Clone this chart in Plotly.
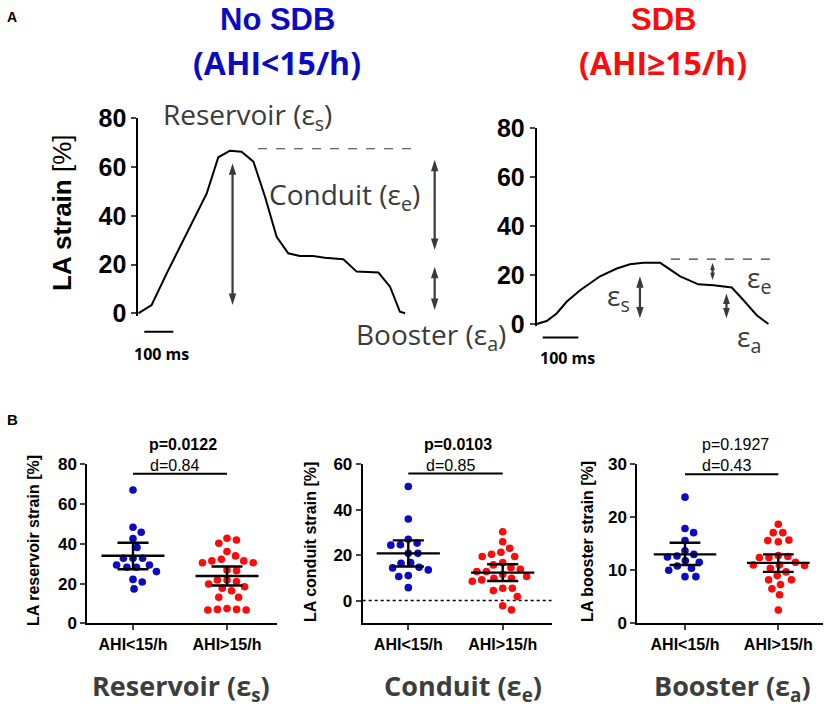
import numpy as np
import plotly.graph_objects as go

W, H = 829, 708

# ---------------- Panel A: representative LA strain curves ----------------
t_nosdb = [0, 46, 98, 167, 236, 276, 316, 356, 397, 437, 477, 517, 557, 603, 643, 707, 753, 828, 868, 902, 920]
s_nosdb = [0, 3.4, 16.4, 32.8, 49.2, 64.0, 66.7, 66.3, 62.2, 47.8, 31.4, 24.6, 23.5, 23.5, 22.8, 22.2, 17.1, 16.7, 10.9, 0.7, 0]
t_sdb = [0, 28, 56, 84, 122, 178, 225, 262, 300, 347, 403, 454, 497, 548, 581, 618, 651]
s_sdb = [0, 1.2, 4.3, 9.1, 13.8, 19.5, 22.7, 24.4, 25.0, 25.0, 19.5, 16.2, 15.8, 14.9, 9.7, 3.6, 0]

# reference (dashed) levels: [value, t_start, t_end]
ref_nosdb = [67.5, 413, 969]
ref_sdb = [26.5, 377, 668]

# double arrows: (time, top, bottom)
arrows_nosdb = [(325, 61.5, 3.4), (1022, 63.0, 26.0), (1022, 19.1, 1.4)]
arrows_sdb = [(290, 19.5, 2.3), (494, 25.0, 18.0), (533, 12.5, 2.3)]

scale_ms = 100
yticks_A = [0, 20, 40, 60, 80]

# ---------------- Panel B: group comparisons ----------------
groups = ["AHI&lt;15/h", "AHI&gt;15/h"]

res_low = [67.1, 48.3, 45.8, 42.6, 38.2, 32.7, 32.7, 32.7, 29.3, 29.3, 28.2, 28.2, 26.0, 22.1, 20.8, 17.3]
res_high = [42.8, 41.9, 40.3, 36.1, 33.9, 32.2, 31.4, 31.4, 30.5, 30.5, 26.8, 26.5, 21.8, 21.8, 21.0,
            19.8, 18.4, 17.6, 16.4, 13.1, 13.1, 7.4, 7.0, 7.0, 6.7, 6.7]
res_mean = [34.0, 23.8]
res_lo = [27.2, 19.0]
res_hi = [40.5, 28.6]

con_low = [50.2, 35.9, 27.0, 25.3, 24.6, 24.4, 20.8, 20.8, 16.7, 16.4, 14.7, 14.4, 13.5, 11.0, 10.6, 5.7]
con_high = [30.3, 25.9, 23.0, 21.3, 20.4, 19.4, 19.4, 16.7, 15.7, 14.5, 13.8, 12.8, 12.8, 11.5, 10.6,
            9.8, 9.8, 9.1, 8.5, 5.4, 5.4, 4.4, 1.8, -2.3, -4.1]
con_mean = [20.8, 12.3]
con_lo = [15.0, 8.6]
con_hi = [26.5, 16.0]

boo_low = [23.8, 17.9, 17.1, 15.6, 13.7, 13.0, 12.7, 12.5, 11.8, 11.5, 10.8, 10.4, 10.0, 8.8, 8.8]
boo_high = [18.7, 17.1, 17.1, 15.7, 15.6, 15.4, 12.8, 12.6, 12.4, 12.4, 11.5, 11.0, 11.0, 10.9, 10.4,
            9.7, 9.0, 8.2, 8.2, 7.3, 6.5, 5.4, 2.5]
boo_mean = [13.0, 11.4]
boo_lo = [11.0, 9.7]
boo_hi = [15.2, 13.0]

p_text = ["<b>p=0.0122</b>", "<b>p=0.0103</b>", "p=0.1927"]
d_text = ["d=0.84", "d=0.85", "d=0.43"]
sig_level = [75.3, 56.0, 28.1]

BLUE = "#0b0bc4"
RED = "#ff0a0a"
GRAY = "#3a3a3a"
SANS = "Liberation Sans, Arial, sans-serif"
HUM = "Open Sans, Noto Sans, sans-serif"


def px(x):
    return x / W


def py(y):
    return 1 - y / H


def swarm(vals, ypu, xpu, d=9.6):
    vals = np.asarray(vals, float)
    order = np.argsort(-vals, kind="stable")
    placed = []
    out = np.zeros(len(vals))
    for i in order:
        y = vals[i] * ypu
        cands = [0.0]
        for (qx, qy) in placed:
            dy = abs(qy - y)
            if dy < d:
                dx = np.sqrt(d * d - dy * dy)
                cands += [qx + dx, qx - dx]
        cands.sort(key=abs)
        for c in cands:
            if all((c - qx) ** 2 + (y - qy) ** 2 >= d * d - 1e-6 for qx, qy in placed):
                out[i] = c
                placed.append((c, y))
                break
    return out / xpu


fig = go.Figure()
ann = []
shapes = []


def text(x, y, s, size, color="black", bold=False, family=SANS, xanchor="center", angle=0):
    ann.append(dict(x=px(x), y=py(y), xref="paper", yref="paper", text=s, showarrow=False,
                    font=dict(size=size, color=color, family=family, weight="bold" if bold else "normal"),
                    xanchor=xanchor, yanchor="middle", textangle=angle, borderpad=0))


# ---------- Panel A axes ----------
A_axes = [
    ("x", "y", 138.3, 440, 0.29, 313.3, 118.3),
    ("x2", "y2", 536.7, 790, 0.356, 324.0, 128.3),
]
curves = [(t_nosdb, s_nosdb, ref_nosdb, arrows_nosdb), (t_sdb, s_sdb, ref_sdb, arrows_sdb)]
scalebar_y = [331.7, 337.5]
scalebar_x0 = [144.3, 542.7]

for k, ((xa, ya, x0, x1, ppm, y0, y80), (tt, ss, ref, arr)) in enumerate(zip(A_axes, curves)):
    ppu = (y0 - y80) / 80.0
    ylo = -1.0
    xd = [px(x0), px(x1)]
    yd = [py(y0 - ylo * ppu), py(y80)]
    xkey = "xaxis" if xa == "x" else "xaxis2"
    ykey = "yaxis" if ya == "y" else "yaxis2"
    fig.layout[xkey] = dict(domain=xd, range=[0, (x1 - x0) / ppm], visible=False, anchor=ya, automargin=False)
    fig.layout[ykey] = dict(domain=yd, range=[ylo, 80], anchor=xa, showline=True, linewidth=2,
                            linecolor="black", ticks="outside", ticklen=5, tickwidth=2, automargin=False,
                            tickvals=yticks_A, showgrid=False, zeroline=False,
                            tickfont=dict(size=25, family=SANS, color="black", weight="bold"))
    fig.add_trace(go.Scatter(x=tt, y=ss, mode="lines", xaxis=xa, yaxis=ya,
                             line=dict(color="black", width=2), showlegend=False, hoverinfo="skip"))
    fig.add_trace(go.Scatter(x=[ref[1], ref[2]], y=[ref[0], ref[0]], mode="lines", xaxis=xa, yaxis=ya,
                             line=dict(color=GRAY, width=1.2, dash="dash"), showlegend=False,
                             hoverinfo="skip"))
    # double-headed arrows
    for (ta, top, bot) in arr:
        len_px = (top - bot) * ppu
        msize = min(12.0, 0.42 * len_px / 0.95)
        head = 0.95 * msize / ppu  # head length in data units
        fig.add_trace(go.Scatter(x=[ta, ta], y=[top - head * 0.5, bot + head * 0.5], mode="lines",
                                 xaxis=xa, yaxis=ya, line=dict(color=GRAY, width=2.2),
                                 showlegend=False, hoverinfo="skip"))
        fig.add_trace(go.Scatter(x=[ta, ta], y=[top, bot], mode="markers", xaxis=xa, yaxis=ya,
                                 marker=dict(symbol="arrow", size=msize, angle=[0, 180], color=GRAY,
                                             line=dict(width=0)),
                                 showlegend=False, hoverinfo="skip", cliponaxis=False))
    t0 = (scalebar_x0[k] - x0) / ppm
    shapes.append(dict(type="line", xref=xa, yref="paper", x0=t0, x1=t0 + scale_ms,
                       y0=py(scalebar_y[k]), y1=py(scalebar_y[k]), line=dict(color="black", width=2)))

# ---------- Panel B axes ----------
B_axes = [
    ("x3", "y3", 87.3, 276.7, 133.0, 94.0, [0, 80], [0, 20, 40, 60, 80]),
    ("x4", "y4", 362.7, 551.7, 408.3, 94.4, [-10, 60], [0, 20, 40, 60]),
    ("x5", "y5", 637.3, 823.0, 685.0, 93.3, [0, 30], [0, 10, 20, 30]),
]
B_top, B_bot = 464.3, 623.3
B_data = [
    (res_low, res_high, res_mean, res_lo, res_hi),
    (con_low, con_high, con_mean, con_lo, con_hi),
    (boo_low, boo_high, boo_mean, boo_lo, boo_hi),
]

for i, ((xa, ya, x0, x1, c0, upx, yr, yt), (lo_g, hi_g, mean, lo, hi)) in enumerate(zip(B_axes, B_data)):
    n = xa[1:]
    fig.layout["xaxis" + n] = dict(domain=[px(x0), px(x1)], range=[(x0 - c0) / upx, (x1 - c0) / upx],
                                   anchor=ya, showline=True, linewidth=2, linecolor="black", automargin=False,
                                   ticks="outside", ticklen=5, tickwidth=2, tickvals=[0, 1], ticktext=groups,
                                   showgrid=False, zeroline=False,
                                   tickfont=dict(size=16, family=SANS, color="black", weight="bold"))
    fig.layout["yaxis" + n] = dict(domain=[py(B_bot), py(B_top)], range=yr, anchor=xa, showline=True,
                                   linewidth=2, linecolor="black", ticks="outside", ticklen=5, tickwidth=2,
                                   tickvals=yt, showgrid=False, zeroline=False, automargin=False,
                                   tickfont=dict(size=17, family=SANS, color="black", weight="bold"))
    ypu = (B_bot - B_top) / (yr[1] - yr[0])
    if yr[0] < 0:
        fig.add_trace(go.Scatter(x=[(x0 - c0) / upx, (x1 - c0) / upx], y=[0, 0], mode="lines",
                                 xaxis=xa, yaxis=ya, line=dict(color="black", width=1.5, dash="dot"),
                                 showlegend=False, hoverinfo="skip"))
    for g, (vals, col) in enumerate([(lo_g, BLUE), (hi_g, RED)]):
        off = swarm(vals, ypu, upx)
        fig.add_trace(go.Scatter(x=g + off, y=vals, mode="markers", xaxis=xa, yaxis=ya,
                                 marker=dict(color=col, size=7.6, line=dict(width=0)),
                                 showlegend=False, hoverinfo="skip", cliponaxis=False))
    ex, ey = [], []
    for g in range(2):
        ex += [g - 0.335, g + 0.335, None, g - 0.165, g + 0.165, None, g - 0.165, g + 0.165, None, g, g, None]
        ey += [mean[g], mean[g], None, hi[g], hi[g], None, lo[g], lo[g], None, lo[g], hi[g], None]
    fig.add_trace(go.Scatter(x=ex, y=ey, mode="lines", xaxis=xa, yaxis=ya,
                             line=dict(color="black", width=2.4), showlegend=False, hoverinfo="skip"))
    fig.add_trace(go.Scatter(x=[0, 1], y=[sig_level[i], sig_level[i]], mode="lines", xaxis=xa, yaxis=ya,
                             line=dict(color="black", width=2), showlegend=False, hoverinfo="skip"))

# ---------- Text ----------
text(12, 17, "<b>A</b>", 14)
text(12, 419, "<b>B</b>", 15)
text(277, 19, "<b>No SDB</b>", 31, BLUE, family=SANS)
text(277, 63, "<b>(AHI&lt;15/h)</b>", 32, BLUE, family=HUM)
text(663, 19, "<b>SDB</b>", 31, RED, family=SANS)
text(663, 63, "<b>(AHI≥15/h)</b>", 32, RED, family=HUM)
text(62, 213, "<b>LA strain</b> [%]", 26, angle=-90)
text(162, 116, "Reservoir (ε<sub>s</sub>)", 28, GRAY, family=HUM, xanchor="left")
text(268, 196, "Conduit (ε<sub>e</sub>)", 28, GRAY, family=HUM, xanchor="left")
text(355, 336, "Booster (ε<sub>a</sub>)", 28, GRAY, family=HUM, xanchor="left")
text(161, 354, "<b>100 ms</b>", 16, family=HUM)
text(567, 358, "<b>100 ms</b>", 16, family=HUM)
text(618, 297, "ε<sub>s</sub>", 28, GRAY, family=HUM)
text(759, 279, "ε<sub>e</sub>", 28, GRAY, family=HUM)
text(749, 338, "ε<sub>a</sub>", 28, GRAY, family=HUM)

text(33, 541, "<b>LA reservoir strain [%]</b>", 16, angle=-90)
text(310, 542, "<b>LA conduit strain [%]</b>", 16, angle=-90)
text(587, 542, "<b>LA booster strain [%]</b>", 16, angle=-90)
for xc, s in zip([183, 458, 735], p_text):
    text(xc, 444, s, 16)
for xc, s in zip([174, 450, 726], d_text):
    text(xc, 465, s, 16)
text(181, 687, "<b>Reservoir (ε<sub>s</sub>)</b>", 27, "#3d3d3d", family=HUM)
text(463, 687, "<b>Conduit (ε<sub>e</sub>)</b>", 27, "#3d3d3d", family=HUM)
text(732, 687, "<b>Booster (ε<sub>a</sub>)</b>", 27, "#3d3d3d", family=HUM)

fig.update_layout(width=W, height=H, margin=dict(l=0, r=0, t=0, b=0, autoexpand=False),
                  plot_bgcolor="white", paper_bgcolor="white", showlegend=False,
                  annotations=ann, shapes=shapes)
fig.write_html("out.html", config={"displayModeBar": False},
               post_script="document.body.style.margin='0px';")
